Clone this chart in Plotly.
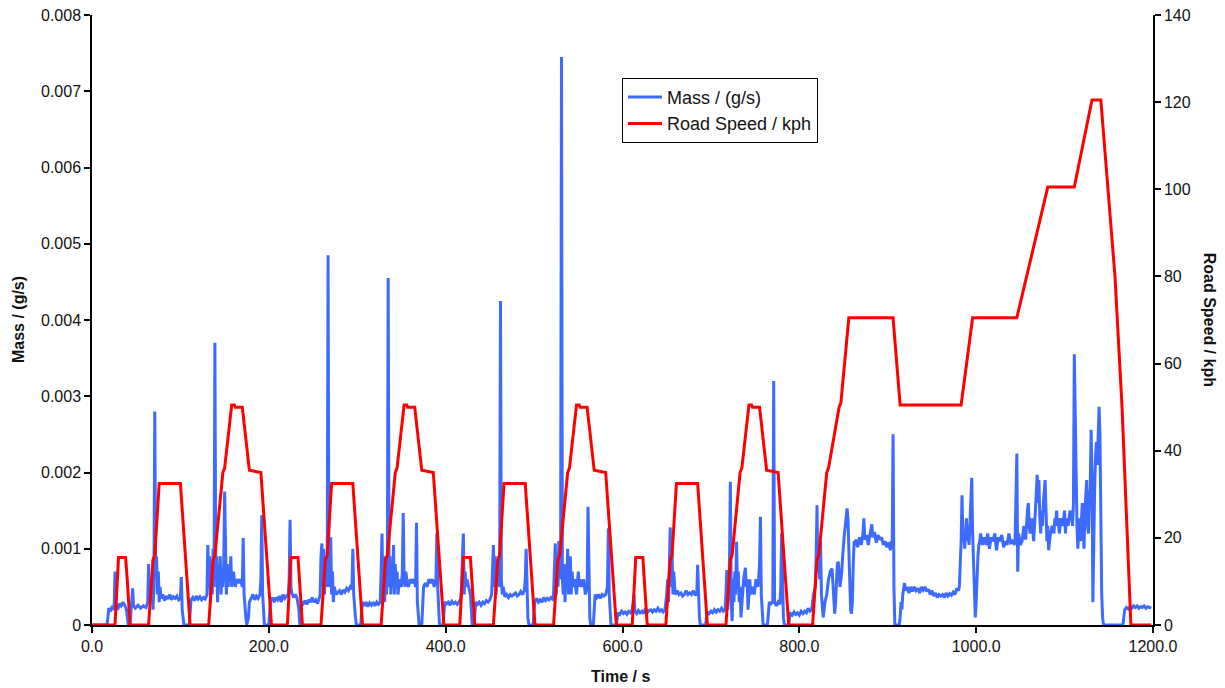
import plotly.graph_objects as go

# ---------------- data ----------------
# Mass emission rate, g/s : (time s, value)
mass_seg1 = [
    (0, 0), (17, 0), (18, 0.0001), (19, 0.00022), (21, 0.00018), (23, 0.00025), (25, 0.0002),
    (26, 0.0007), (27, 0.00025), (29, 0.0002), (31, 0.00028), (33, 0.00025), (35, 0.0003),
    (37, 0.00026), (39, 0.0002), (40, 0.0001), (41, 0), (43, 0), (44, 0.0002), (46, 0.00048),
    (47, 0.00025), (49, 0.00022), (52, 0.00026), (55, 0.00022), (58, 0.00025), (61, 0.00023),
    (63, 0.0003), (64, 0.0008), (65, 0.0003), (66, 0.0006), (67, 0.0004), (68, 0.0006),
    (69, 0.0002), (70, 0.0005), (71, 0.0028), (72, 0.0006), (73, 0.0009), (74, 0.0004),
    (75, 0.0007), (76, 0.0003), (77, 0.0005), (78, 0.00035), (80, 0.0004), (82, 0.00032),
    (84, 0.00038), (86, 0.00034), (88, 0.0004), (90, 0.00033), (92, 0.00037), (94, 0.00035),
    (96, 0.00038), (98, 0.00033), (100, 0.00035), (101, 0.00063), (102, 0.0002), (103, 0.0001),
    (104, 0), (110, 0), (111, 0.0002), (112, 0.00033), (114, 0.00036), (116, 0.00032),
    (118, 0.00038), (120, 0.00034), (122, 0.00037), (124, 0.00033), (126, 0.00036),
    (128, 0.00034), (130, 0.0004), (131, 0.00105), (132, 0.0005), (133, 0.0009), (134, 0.0003),
    (135, 0.0008), (136, 0.0004), (137, 0.001), (138, 0.0005), (139, 0.0037), (140, 0.0006),
    (141, 0.0009), (142, 0.0003), (143, 0.0008), (144, 0.0005), (145, 0.0009), (146, 0.0004),
    (147, 0.0007), (148, 0.0005), (149, 0.0008), (150, 0.00175), (151, 0.0006), (152, 0.0004),
    (153, 0.0008), (154, 0.0005), (155, 0.0007), (156, 0.0006), (157, 0.0009), (158, 0.0005),
    (159, 0.0006), (160, 0.0007), (162, 0.0005), (164, 0.0006), (166, 0.00055), (168, 0.0006),
    (170, 0.0005), (171, 0.00114), (172, 0.0004), (173, 0.0002), (174, 0.0001), (175, 0),
    (177, 0.0001), (178, 0.0003), (180, 0.00035), (182, 0.0004), (184, 0.00033), (186, 0.00038),
    (188, 0.00035), (190, 0.0004), (191, 0.0006), (192, 0.00144), (193, 0.0004), (194, 0.0001),
    (195, 0), (200, 0),
]
mass_seg2 = [
    (201, 0.0002), (202, 0.00033), (204, 0.00036), (206, 0.0003), (208, 0.00036), (210, 0.00033),
    (212, 0.00038), (214, 0.0003), (216, 0.0004), (218, 0.00035), (220, 0.00038), (222, 0.0004),
    (223, 0.0006), (224, 0.00138), (225, 0.0005), (226, 0.00042), (228, 0.00036), (230, 0.0004),
    (232, 0.00035), (234, 0.0002), (235, 0), (236, 0.0001), (237, 0.0003), (239, 0.00028),
    (241, 0.00032), (243, 0.00027), (245, 0.00033), (247, 0.0003), (249, 0.00036), (251, 0.0003),
    (253, 0.00033), (255, 0.00028), (257, 0.00035), (258, 0.0004), (259, 0.0009), (260, 0.00107),
    (261, 0.0005), (262, 0.001), (263, 0.0004), (264, 0.0009), (265, 0.0005), (266, 0.0006),
    (267, 0.00485), (268, 0.0005), (269, 0.0008), (270, 0.00115), (271, 0.0004), (272, 0.0007),
    (273, 0.0003), (274, 0.0005), (276, 0.0004), (278, 0.00042), (280, 0.00045), (282, 0.0004),
    (284, 0.00046), (286, 0.00043), (288, 0.00048), (290, 0.00045), (292, 0.0005), (294, 0.00047),
    (295, 0.001), (296, 0.0004), (297, 0.0002), (298, 0.0001), (299, 0), (304, 0), (305, 0.0002),
    (306, 0.0003), (308, 0.00025), (310, 0.0003), (312, 0.00024), (314, 0.00029), (316, 0.00026),
    (318, 0.0003), (320, 0.00025), (322, 0.0003), (324, 0.00027), (326, 0.0003), (327, 0.0007),
    (328, 0.0012), (329, 0.0004), (330, 0.0009), (331, 0.0003), (332, 0.0008), (333, 0.0004),
    (334, 0.0006), (335, 0.00455), (336, 0.0005), (337, 0.0009), (338, 0.0004), (339, 0.0007),
    (340, 0.0005), (341, 0.00105), (342, 0.0004), (343, 0.0008), (344, 0.0005), (345, 0.0007),
    (346, 0.0004), (348, 0.0006), (350, 0.0005), (351, 0.0007), (352, 0.00147), (353, 0.0006),
    (354, 0.0005), (355, 0.0007), (356, 0.0006), (358, 0.0005), (360, 0.0006), (362, 0.00055),
    (364, 0.0006), (366, 0.0005), (367, 0.00134), (368, 0.0003), (369, 0.0001), (370, 0),
    (373, 0), (374, 0.0002), (375, 0.0005), (377, 0.00055), (379, 0.0005), (381, 0.0006),
    (383, 0.00055), (385, 0.0006), (387, 0.0005), (389, 0.0006), (390, 0.0012), (391, 0.0005),
    (392, 0.0002), (393, 0), (397, 0),
]
mass_seg3 = [
    (398, 0.0002), (399, 0.0003), (401, 0.00028), (403, 0.0003), (405, 0.00026), (407, 0.00031),
    (409, 0.00028), (411, 0.0003), (413, 0.00027), (415, 0.0003), (417, 0.00035), (418, 0.0005),
    (419, 0.0009), (420, 0.0012), (421, 0.0004), (422, 0.0007), (423, 0.0005), (424, 0.0006),
    (426, 0.0005), (428, 0.0004), (429, 0.0002), (430, 0), (432, 0), (433, 0.0002), (434, 0.0003),
    (436, 0.00027), (438, 0.0003), (440, 0.00026), (442, 0.0003), (444, 0.00028), (446, 0.00032),
    (448, 0.0003), (450, 0.00033), (452, 0.0004), (453, 0.0008), (454, 0.00105), (455, 0.0005),
    (456, 0.0009), (457, 0.0004), (458, 0.0008), (459, 0.0006), (460, 0.0009), (461, 0.0005),
    (462, 0.00425), (463, 0.0006), (464, 0.0004), (465, 0.0005), (467, 0.00037), (469, 0.0004),
    (471, 0.00036), (473, 0.0004), (475, 0.00038), (477, 0.0004), (479, 0.00042), (481, 0.00038),
    (483, 0.0004), (485, 0.00044), (487, 0.0004), (489, 0.00045), (490, 0.0006), (491, 0.001),
    (492, 0.0004), (493, 0.0001), (494, 0), (499, 0), (500, 0.0002), (501, 0.0003),
    (503, 0.00035), (505, 0.0003), (507, 0.00033), (509, 0.0003), (511, 0.00036), (513, 0.00032),
    (515, 0.00035), (517, 0.00033), (519, 0.00036), (521, 0.00034), (522, 0.0004), (523, 0.0008),
    (524, 0.00107), (525, 0.0004), (526, 0.0009), (527, 0.0005), (528, 0.0011), (529, 0.0006),
    (530, 0.0009), (531, 0.00745), (532, 0.0006), (533, 0.0004), (534, 0.0008), (535, 0.0003),
    (536, 0.0007), (537, 0.0005), (538, 0.001), (539, 0.0004), (540, 0.0006), (541, 0.0009),
    (542, 0.0004), (543, 0.0007), (544, 0.0005), (546, 0.0006), (548, 0.0004), (550, 0.0007),
    (551, 0.0005), (552, 0.0006), (554, 0.0005), (556, 0.0006), (558, 0.0004), (560, 0.0005),
    (561, 0.00155), (562, 0.0003), (563, 0.0001), (564, 0), (567, 0), (568, 0.0002),
    (569, 0.0004), (571, 0.00036), (573, 0.0004), (575, 0.00035), (577, 0.0004), (579, 0.00038),
    (581, 0.0004), (583, 0.0005), (584, 0.00127), (585, 0.0004), (586, 0.0002), (587, 0),
    (593, 0),
]
mass_seg4 = [
    (594, 0.0001), (595, 0.00016), (597, 0.00014), (599, 0.00018), (601, 0.00015), (603, 0.00017),
    (605, 0.00014), (607, 0.00018), (609, 0.00016), (611, 0.0002), (613, 0.0004), (614, 0.00018),
    (616, 0.00015), (618, 0.00019), (620, 0.00016), (622, 0.00018), (624, 0.00015), (626, 0.00022),
    (628, 0.00016), (630, 0.00019), (632, 0.0002), (634, 0.00017), (636, 0.0002), (638, 0.00018),
    (640, 0.00022), (642, 0.00018), (644, 0.0002), (646, 0.00017), (648, 0.0002), (650, 0.0004),
    (651, 0.0006), (652, 0.0003), (653, 0.0008), (654, 0.00128), (655, 0.0005), (656, 0.001),
    (657, 0.0004), (658, 0.0007), (659, 0.0005), (660, 0.0004), (662, 0.00045), (664, 0.0004),
    (666, 0.00042), (668, 0.00038), (670, 0.0004), (672, 0.00045), (674, 0.0004), (676, 0.00042),
    (678, 0.0004), (680, 0.00045), (682, 0.0004), (684, 0.0004), (685, 0.00079), (686, 0.0003),
    (687, 0.0001), (688, 0), (694, 0), (695, 0.0001), (696, 0.00017), (698, 0.00015),
    (700, 0.00018), (702, 0.00016), (704, 0.0002), (706, 0.00017), (708, 0.0002), (710, 0.00018),
    (712, 0.00022), (714, 0.00018), (716, 0.0002), (717, 0.0004), (718, 0.00072), (719, 0.0002),
    (720, 0.0005), (721, 0.0008), (722, 0.00188), (723, 0.0003), (724, 0.00005), (725, 0.0006),
    (726, 0.0003), (727, 0.0007), (728, 0.0004), (729, 0.00109), (730, 0.0005), (731, 0.0007),
    (732, 0.0003), (733, 0.0005), (734, 0.0001), (735, 0.0003), (737, 0.0006), (739, 0.00075),
    (740, 0.0005), (741, 0.0006), (742, 0.0002), (743, 0.0004), (744, 0.0006), (745, 0.0004),
    (747, 0.0005), (749, 0.0004), (751, 0.0006), (753, 0.0005), (754, 0.0006), (755, 0.0008),
    (756, 0.00142), (757, 0.0004), (758, 0.0001), (759, 0), (764, 0), (765, 0.0002),
    (766, 0.0003), (768, 0.00028), (770, 0.0003), (771, 0.0032), (772, 0.0003), (774, 0.00025),
    (776, 0.0003), (778, 0.00027), (779, 0.0005), (780, 0.0012), (781, 0.0004), (782, 0.0001),
    (783, 0), (788, 0),
]
mass_seg5 = [
    (789, 0.0001), (790, 0.00015), (792, 0.00013), (794, 0.00017), (796, 0.00014), (798, 0.00016),
    (800, 0.00013), (802, 0.00018), (804, 0.00015), (806, 0.00018), (808, 0.00016), (810, 0.00022),
    (812, 0.00018), (814, 0.0002), (816, 0.0004), (818, 0.0005), (819, 0.0009), (820, 0.00157),
    (821, 0.0007), (822, 0.0011), (823, 0.0006), (824, 0.0011), (825, 0.0004), (826, 0.0002),
    (827, 0.0001), (829, 0.0003), (831, 0.0004), (833, 0.0006), (835, 0.0007), (837, 0.00074),
    (838, 0.0005), (839, 0.0003), (840, 0.00015), (841, 0.0003), (842, 0.0006), (843, 0.0008),
    (844, 0.00083), (845, 0.0007), (846, 0.0005), (847, 0.0006), (848, 0.0007), (849, 0.0009),
    (850, 0.0011), (851, 0.0012), (852, 0.0013), (853, 0.00145), (854, 0.00153), (855, 0.0014),
    (856, 0.0009), (857, 0.0005), (858, 0.0002), (859, 0.00015), (860, 0.0003), (861, 0.0008),
    (862, 0.0011), (863, 0.00105), (864, 0.00112), (866, 0.00102), (868, 0.00115), (870, 0.00105),
    (872, 0.0012), (873, 0.0014), (874, 0.00112), (876, 0.00118), (878, 0.00105), (880, 0.0012),
    (881, 0.00128), (882, 0.00132), (883, 0.00115), (885, 0.00122), (887, 0.00108), (889, 0.00118),
    (891, 0.00112), (893, 0.00115), (895, 0.00105), (897, 0.0011), (899, 0.00102), (901, 0.00108),
    (903, 0.00098), (904, 0.0011), (905, 0.001), (906, 0.0025), (907, 0.0005), (908, 0),
    (913, 0), (914, 0.0001), (915, 0.0003), (916, 0.0002), (917, 0.0004), (918, 0.0005),
    (919, 0.00055), (920, 0.00045), (922, 0.0005), (924, 0.00042), (926, 0.0005), (928, 0.00044),
    (930, 0.0005), (932, 0.00045), (934, 0.00048), (936, 0.00042), (938, 0.0005), (940, 0.00046),
    (942, 0.0005), (944, 0.00044), (946, 0.00047), (948, 0.0004), (950, 0.00045), (952, 0.00038),
    (954, 0.00042), (956, 0.00036), (958, 0.0004), (960, 0.00038), (962, 0.0004), (964, 0.00036),
    (966, 0.00042), (968, 0.00038), (970, 0.00041), (972, 0.00039), (974, 0.00043), (976, 0.0004),
    (978, 0.00048), (980, 0.00045),
]
mass_seg6 = [
    (981, 0.0005), (982, 0.0008), (983, 0.0011), (984, 0.0017), (985, 0.0011), (986, 0.0012),
    (987, 0.001), (988, 0.0012), (989, 0.0014), (990, 0.0011), (991, 0.0012), (992, 0.00105),
    (993, 0.0013), (994, 0.0015), (995, 0.00193), (996, 0.0012), (997, 0.0008), (998, 0.0004),
    (999, 0.0001), (1000, 0.0003), (1001, 0.0007), (1002, 0.0009), (1003, 0.00105), (1004, 0.0011),
    (1005, 0.0012), (1007, 0.00105), (1009, 0.00115), (1011, 0.00105), (1013, 0.0012), (1015, 0.001),
    (1017, 0.00115), (1019, 0.0011), (1021, 0.0012), (1023, 0.00098), (1025, 0.00115), (1027, 0.0011),
    (1029, 0.00118), (1031, 0.00102), (1033, 0.0011), (1035, 0.00105), (1037, 0.0012), (1039, 0.00108),
    (1041, 0.0011), (1043, 0.00105), (1044, 0.0011), (1045, 0.0016), (1046, 0.00225), (1047, 0.0007),
    (1048, 0.0012), (1050, 0.00105), (1052, 0.0011), (1054, 0.0013), (1056, 0.00112), (1058, 0.0015),
    (1059, 0.0016), (1060, 0.0013), (1061, 0.0012), (1063, 0.0014), (1065, 0.0011), (1067, 0.0015),
    (1068, 0.0018), (1069, 0.00197), (1070, 0.0016), (1071, 0.0019), (1072, 0.0014), (1073, 0.0012),
    (1074, 0.0015), (1075, 0.0013), (1076, 0.0016), (1077, 0.0018), (1078, 0.0019), (1079, 0.0015),
    (1080, 0.0011), (1081, 0.0013), (1082, 0.00098), (1083, 0.0011), (1084, 0.0012), (1086, 0.0013),
    (1088, 0.0012), (1089, 0.0014), (1090, 0.00135), (1091, 0.0015), (1092, 0.0013), (1093, 0.0014),
    (1094, 0.0012), (1096, 0.0014), (1098, 0.0013), (1100, 0.0015), (1101, 0.0012), (1102, 0.0014),
    (1104, 0.0013), (1106, 0.0015), (1108, 0.0014), (1109, 0.0013), (1110, 0.0016), (1111, 0.00355),
    (1112, 0.0027), (1113, 0.0018), (1114, 0.0013), (1115, 0.001), (1116, 0.0012), (1117, 0.0014),
    (1118, 0.0011), (1119, 0.0015), (1120, 0.0016), (1121, 0.0013), (1122, 0.001), (1123, 0.0015),
    (1124, 0.0017), (1125, 0.0019), (1126, 0.0013), (1127, 0.0012), (1128, 0.0016), (1129, 0.0018),
    (1130, 0.00256), (1131, 0.002), (1132, 0.0003), (1133, 0.0012), (1134, 0.0018), (1135, 0.0022),
    (1136, 0.0024), (1137, 0.0021), (1138, 0.0025), (1139, 0.00286), (1140, 0.0025), (1141, 0.0012),
    (1142, 0.0004), (1143, 0.0001), (1144, 0), (1166, 0), (1167, 0.0001), (1168, 0.0002),
    (1170, 0.00023), (1172, 0.00021), (1174, 0.00024), (1176, 0.00022), (1178, 0.00025),
    (1180, 0.00023), (1182, 0.00025), (1184, 0.00022), (1186, 0.00024), (1188, 0.00023),
    (1190, 0.00025), (1192, 0.00022), (1194, 0.00024), (1196, 0.00023), (1198, 0.00022),
]

# Road speed, kph : (time s, value) vertices
speed_ece1 = [
    (0, 0), (26, 0), (30, 15.5), (38, 15.5), (40, 10), (43, 0), (64, 0), (69, 15), (71, 16),
    (76, 32.5), (100, 32.5), (108, 10), (111, 0), (132, 0), (137, 15), (139, 16), (148, 35),
    (150, 36), (158, 50.5), (161, 50.5), (162, 50), (170, 50), (178, 35.5), (191, 35),
    (200, 10), (203, 0),
]
speed_ece2 = [
    (221, 0), (225, 15.5), (233, 15.5), (235, 10), (238, 0), (259, 0), (264, 15), (266, 16),
    (271, 32.5), (295, 32.5), (303, 10), (306, 0), (327, 0), (332, 15), (334, 16), (343, 35),
    (345, 36), (353, 50.5), (356, 50.5), (357, 50), (365, 50), (373, 35.5), (386, 35),
    (395, 10), (398, 0),
]
speed_ece3 = [
    (416, 0), (420, 15.5), (428, 15.5), (430, 10), (433, 0), (454, 0), (459, 15), (461, 16),
    (466, 32.5), (490, 32.5), (498, 10), (501, 0), (522, 0), (527, 15), (529, 16), (538, 35),
    (540, 36), (548, 50.5), (551, 50.5), (552, 50), (560, 50), (568, 35.5), (581, 35),
    (590, 10), (593, 0),
]
speed_ece4 = [
    (611, 0), (615, 15.5), (623, 15.5), (625, 10), (628, 0), (649, 0), (654, 15), (656, 16),
    (661, 32.5), (685, 32.5), (693, 10), (696, 0), (717, 0), (722, 15), (724, 16), (733, 35),
    (735, 36), (743, 50.5), (746, 50.5), (747, 50), (755, 50), (763, 35.5), (776, 35),
    (785, 10), (788, 0),
]
speed_eudc = [
    (815, 0), (820, 15), (822, 16), (831, 35), (833, 36), (845, 50), (847, 51), (856, 70.5),
    (906, 70.5), (914, 50.5), (983, 50.5), (996, 70.5), (1046, 70.5), (1081, 100.5),
    (1111, 100.5), (1131, 120.5), (1141, 120.5), (1157, 80), (1165, 50), (1175, 0), (1198, 0),
]

x_ticks = [0, 200, 400, 600, 800, 1000, 1200]
mass_ticks = [0, 0.001, 0.002, 0.003, 0.004, 0.005, 0.006, 0.007, 0.008]
speed_ticks = [0, 20, 40, 60, 80, 100, 120, 140]

# ---------------- figure ----------------
mass_points = mass_seg1 + mass_seg2 + mass_seg3 + mass_seg4 + mass_seg5 + mass_seg6
speed_points = speed_ece1 + speed_ece2 + speed_ece3 + speed_ece4 + speed_eudc

FONT = "Liberation Sans, Arial, sans-serif"
INK = "#111111"

fig = go.Figure()
fig.add_trace(go.Scatter(
    x=[p[0] for p in mass_points], y=[p[1] for p in mass_points],
    mode="lines", name="Mass / (g/s)", legendgroup="a",
    line=dict(color="#3D6BFF", width=3), yaxis="y",
))
fig.add_trace(go.Scatter(
    x=[p[0] for p in speed_points], y=[p[1] for p in speed_points],
    mode="lines", name="Road Speed / kph", legendgroup="b",
    line=dict(color="#FF0000", width=3), yaxis="y2",
))

axis_common = dict(
    showgrid=False, zeroline=False, automargin=False, ticklabeloverflow="allow",
    showline=True, linecolor="#000000", linewidth=1.5,
    ticks="outside", ticklen=6, tickwidth=1.5, tickcolor="#000000",
    tickfont=dict(size=16),
)

# page body has an 8 px margin, so the figure is sized / offset to compensate
fig.update_layout(
    width=1217, height=680,
    margin=dict(l=84, r=72, t=7, b=63, autoexpand=False),
    paper_bgcolor="white", plot_bgcolor="white",
    font=dict(family=FONT, size=16, color=INK),
    showlegend=True,
    legend=dict(
        x=0.4995, y=0.897, xanchor="left", yanchor="top",
        bgcolor="white", bordercolor="#000000", borderwidth=1,
        font=dict(family=FONT, size=18, color=INK),
        tracegroupgap=0, itemwidth=34,
    ),
    xaxis=dict(range=[0, 1200], tickvals=x_ticks, tickformat=".1f", **axis_common),
    yaxis=dict(range=[0, 0.008], tickvals=mass_ticks,
               ticktext=[str(v) if v else "0" for v in mass_ticks], **axis_common),
    yaxis2=dict(range=[0, 140], tickvals=speed_ticks, overlaying="y", side="right",
                **axis_common),
    annotations=[
        dict(text="<b>Time / s</b>", x=0.4977, y=-0.085, xref="paper", yref="paper",
             xanchor="center", yanchor="middle", showarrow=False, font=dict(size=16)),
        dict(text="<b>Mass / (g/s)</b>", x=-0.0697, y=0.5, xref="paper", yref="paper",
             xanchor="center", yanchor="middle", showarrow=False, textangle=-90, font=dict(size=16)),
        dict(text="<b>Road Speed / kph</b>", x=1.054, y=0.5, xref="paper", yref="paper",
             xanchor="center", yanchor="middle", showarrow=False, textangle=90, font=dict(size=16)),
    ],
)

fig.write_html("out.html")
